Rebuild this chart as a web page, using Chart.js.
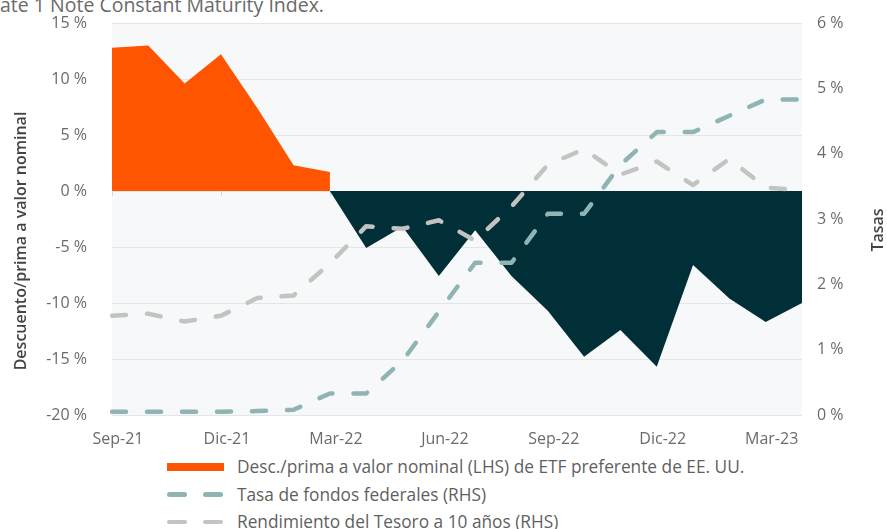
<!DOCTYPE html>
<html lang="es">
<head>
<meta charset="utf-8">
<title>Descuento/prima a valor nominal</title>
<script src="https://cdn.jsdelivr.net/npm/chart.js@4.4.1/dist/chart.umd.min.js"></script>
<style>
  html, body { margin: 0; padding: 0; background: #fff; }
  body {
    width: 887px; height: 529px; position: relative; overflow: hidden;
    font-family: "Open Sans", sans-serif;
  }
  .note {
    position: absolute; left: 0; top: -5px;
    font-size: 19.5px; line-height: 20px; color: #6a6a6a; white-space: nowrap;
  }
  .chart-box { position: absolute; left: 0; top: 0; width: 887px; height: 450px; }
  .legend { position: absolute; left: 167px; top: 453px; }
  .legend-item { display: flex; align-items: center; height: 27.5px; }
  .legend-item span.label { font-size: 17.3px; color: #5f5f5f; white-space: nowrap; }
  .swatch { position: relative; width: 57px; height: 8px; margin-right: 13px; }
  .swatch.solid { background: #ff5400; }
  .swatch i {
    position: absolute; top: 2px; width: 20px; height: 4.5px; border-radius: 3px;
  }
  .swatch i:first-child { left: 0; }
  .swatch i:last-child { left: 36px; }
</style>
</head>
<body>

<div class="note">ate 1 Note Constant Maturity Index.</div>

<div class="chart-box"><canvas id="premiumChart"></canvas></div>

<div class="legend">
  <div class="legend-item"><div class="swatch solid"></div><span class="label">Desc./prima a valor nominal (LHS) de ETF preferente de EE. UU.</span></div>
  <div class="legend-item"><div class="swatch"><i style="background:#8fb4b3"></i><i style="background:#8fb4b3"></i></div><span class="label">Tasa de fondos federales (RHS)</span></div>
  <div class="legend-item"><div class="swatch"><i style="background:#c3c3c1"></i><i style="background:#c3c3c1"></i></div><span class="label">Rendimiento del Tesoro a 10 años (RHS)</span></div>
</div>

<script>
/* =========================
   DATA
========================= */

const months = [
    "Sep-21", "Oct-21", "Nov-21", "Dic-21", "Ene-22", "Feb-22", "Mar-22",
    "Abr-22", "May-22", "Jun-22", "Jul-22", "Ago-22", "Sep-22", "Oct-22",
    "Nov-22", "Dic-22", "Ene-23", "Feb-23", "Mar-23", "Abr-23"
];

// premium (positive part) and discount (negative part) of the ETF, LHS
const premium = [12.8, 13.0, 9.6, 12.2, 7.4, 2.3, 1.7,
    null, null, null, null, null, null, null, null, null, null, null, null, null];

const discount = [null, null, null, null, null, null, 0,
    -5.1, -3.2, -7.6, -3.5, -7.6, -10.7, -14.8, -12.4, -15.7, -6.6, -9.6, -11.7, -10.0];

// rates, RHS
const fedFunds = [0.05, 0.05, 0.05, 0.05, 0.06, 0.08, 0.33, 0.33, 0.83, 1.58,
    2.33, 2.33, 3.08, 3.08, 3.83, 4.33, 4.33, 4.58, 4.83, 4.83];

const treasury10y = [1.52, 1.55, 1.43, 1.52, 1.79, 1.83, 2.32, 2.89, 2.85, 2.98,
    2.67, 3.19, 3.83, 4.07, 3.68, 3.88, 3.52, 3.92, 3.48, 3.44];

const leftTitle = "Descuento/prima a valor nominal";
const rightTitle = "Tasas";

/* =========================
   PLUGINS
========================= */

const TICK_FONT = { family: "'Open Sans', sans-serif", size: 16 };

const chartDecor = {

    id: "chartDecor",

    beforeDraw(chart){

        const { ctx, chartArea: a } = chart;

        ctx.save();
        ctx.fillStyle = "#f7f8fa";
        ctx.fillRect(a.left, a.top, a.right - a.left, a.bottom - a.top);
        ctx.restore();

    },

    beforeDatasetsDraw(chart){

        // little tick marks on the zero line, every 3 months
        const { ctx, scales } = chart;
        const y0 = scales.y.getPixelForValue(0);

        ctx.save();
        ctx.strokeStyle = "#d6d6d6";
        ctx.lineWidth = 1;

        months.forEach((m, i) => {

            if(i % 3 !== 0) return;

            const x = Math.round(scales.x.getPixelForValue(i)) + 0.5;
            ctx.beginPath();
            ctx.moveTo(x, y0);
            ctx.lineTo(x, y0 + 5);
            ctx.stroke();

        });

        ctx.restore();

    },

    afterDraw(chart){

        const { ctx } = chart;

        ctx.save();
        ctx.font = "600 16px 'Open Sans', sans-serif";
        ctx.fillStyle = "#444";
        ctx.textAlign = "center";
        ctx.textBaseline = "middle";
        ctx.translate(21, 241);
        ctx.rotate(-Math.PI / 2);
        ctx.fillText(leftTitle, 0, 0);
        ctx.restore();

        ctx.save();
        ctx.font = "600 16px 'Open Sans', sans-serif";
        ctx.fillStyle = "#444";
        ctx.textAlign = "center";
        ctx.textBaseline = "middle";
        ctx.translate(878, 230);
        ctx.rotate(-Math.PI / 2);
        ctx.fillText(rightTitle, 0, 0);
        ctx.restore();

    }

};

/* =========================
   CHART
========================= */

document.addEventListener("DOMContentLoaded", () => {

    const ctx = document.getElementById("premiumChart");

    new Chart(ctx, {

        type: "line",

        data: {

            labels: months,

            datasets: [

                {
                    label: "Desc./prima a valor nominal (LHS) de ETF preferente de EE. UU.",
                    data: premium,
                    yAxisID: "y",
                    fill: "origin",
                    backgroundColor: "#ff5400",
                    borderWidth: 0,
                    pointRadius: 0,
                    spanGaps: false,
                    order: 1
                },

                {
                    label: "discount",
                    data: discount,
                    yAxisID: "y",
                    fill: "origin",
                    backgroundColor: "#012f38",
                    borderWidth: 0,
                    pointRadius: 0,
                    spanGaps: false,
                    order: 1
                },

                {
                    label: "Tasa de fondos federales (RHS)",
                    data: fedFunds,
                    yAxisID: "y2",
                    borderColor: "#8fb4b3",
                    borderWidth: 4.5,
                    borderDash: [14, 21],
                    borderCapStyle: "round",
                    borderJoinStyle: "round",
                    pointRadius: 0,
                    fill: false,
                    order: 0
                },

                {
                    label: "Rendimiento del Tesoro a 10 años (RHS)",
                    data: treasury10y,
                    yAxisID: "y2",
                    borderColor: "#c3c3c1",
                    borderWidth: 4.5,
                    borderDash: [14, 21],
                    borderCapStyle: "round",
                    borderJoinStyle: "round",
                    pointRadius: 0,
                    fill: false,
                    order: 0
                }

            ]

        },

        options: {

            responsive: true,
            maintainAspectRatio: false,
            animation: false,

            layout: {
                padding: { top: 23, left: 0, right: 0, bottom: 0 }
            },

            elements: {
                line: { tension: 0 }
            },

            plugins: {
                legend: { display: false },
                tooltip: { enabled: false }
            },

            scales: {

                x: {
                    offset: false,
                    grid: { display: false },
                    border: { display: false },
                    ticks: {
                        autoSkip: false,
                        maxRotation: 0,
                        padding: 7,
                        labelOffset: 6,
                        color: "#6b6b6b",
                        font: TICK_FONT,
                        callback: (v, i) => i % 3 === 0 ? months[i] : ""
                    },
                    afterFit: (axis) => { axis.height = 35; }
                },

                // tick gap is done with an invisible tick mark, so the
                // label padding doesn't push the chart area down
                y: {
                    position: "left",
                    min: -20,
                    max: 15,
                    grid: {
                        color: "#e4e5e7",
                        lineWidth: 1,
                        drawTicks: true,
                        tickLength: 25,
                        tickColor: "rgba(0,0,0,0)"
                    },
                    border: { display: false },
                    ticks: {
                        stepSize: 5,
                        padding: 0,
                        color: "#6b6b6b",
                        font: TICK_FONT,
                        callback: v => v + " %"
                    },
                    afterFit: (axis) => { axis.width = 112; }
                },

                y2: {
                    position: "right",
                    min: 0,
                    max: 6,
                    grid: {
                        display: false,
                        drawTicks: true,
                        tickLength: 15
                    },
                    border: { display: false },
                    ticks: {
                        stepSize: 1,
                        padding: 0,
                        color: "#6b6b6b",
                        font: TICK_FONT,
                        callback: v => v + " %"
                    },
                    afterFit: (axis) => { axis.width = 85; }
                }

            }

        },

        plugins: [chartDecor]

    });

});
</script>

</body>
</html>
